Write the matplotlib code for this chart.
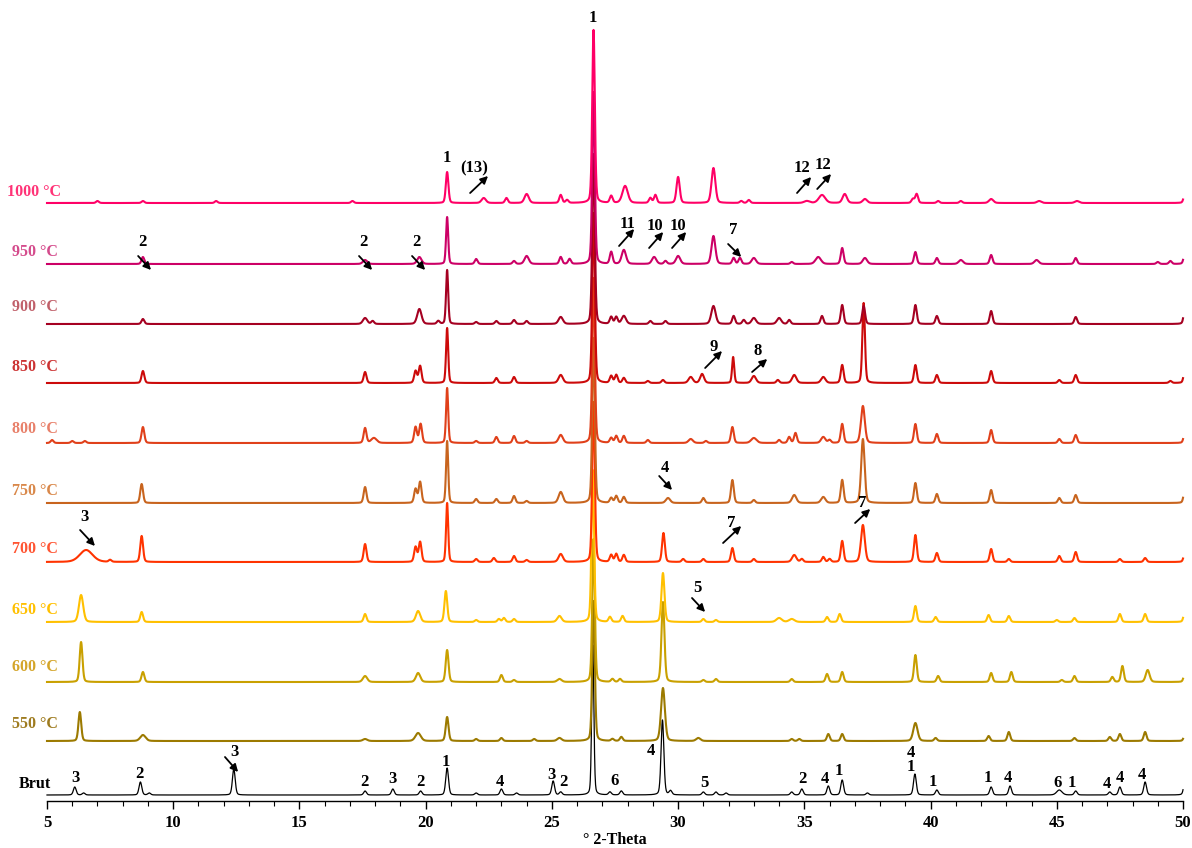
import numpy as np
import matplotlib
matplotlib.use("Agg")
import matplotlib.pyplot as plt
from matplotlib.ticker import MultipleLocator

# ---------------- data ----------------
# each peak: (2-theta, intensity [a.u.], optional FWHM)
samples = ["Brut", "550 °C", "600 °C", "650 °C", "700 °C", "750 °C",
           "800 °C", "850 °C", "900 °C", "950 °C", "1000 °C"]

peaks_brut = [(6.1, 8), (6.45, 2), (8.7, 13), (9.05, 2), (12.4, 26), (17.6, 4),
              (18.7, 6), (19.8, 4), (20.85, 27), (22.0, 2), (23.0, 6), (23.6, 2),
              (25.05, 14), (25.35, 3), (26.62, 150, 0.1), (27.3, 3), (27.75, 4),
              (29.38, 75), (29.7, 4), (31.0, 3), (31.5, 3), (31.9, 2), (34.5, 3),
              (34.9, 6), (35.95, 9), (36.5, 15), (37.5, 2), (39.38, 21), (40.25, 5),
              (42.4, 8), (43.15, 9), (45.1, 5, 0.25), (45.75, 4), (47.1, 3),
              (47.5, 8), (48.5, 13), (50.1, 24)]
peaks_550 = [(6.3, 29), (8.8, 6, 0.25), (17.6, 2, 0.2), (19.7, 8, 0.25), (20.85, 24),
             (22.0, 2), (23.0, 3), (24.3, 2), (25.3, 3, 0.2), (26.65, 140, 0.12),
             (27.4, 2), (27.75, 4), (29.4, 53, 0.18), (30.8, 3, 0.2), (34.5, 2),
             (34.8, 2), (35.95, 7), (36.5, 7), (39.4, 18, 0.2), (40.2, 3),
             (42.3, 5), (43.1, 9), (45.7, 3), (47.1, 4), (47.5, 7), (48.5, 9),
             (50.1, 10)]
peaks_600 = [(6.35, 40), (8.8, 10), (17.6, 6, 0.2), (19.7, 9, 0.2), (20.85, 32),
             (23.0, 7), (23.5, 2), (25.3, 3, 0.2), (26.65, 143, 0.12), (27.4, 3),
             (27.7, 3), (29.4, 80, 0.14), (31.0, 2), (31.5, 3), (34.5, 3),
             (35.9, 8), (36.5, 10), (39.4, 27), (40.3, 6), (42.4, 9), (43.2, 10),
             (45.2, 2), (45.7, 6), (47.2, 5), (47.6, 16), (48.6, 12, 0.18),
             (50.1, 15)]
peaks_650 = [(6.35, 27, 0.2), (8.75, 10), (17.6, 8), (19.7, 11, 0.2), (20.8, 31),
             (22.0, 2), (22.9, 3), (23.1, 4), (23.5, 3), (25.3, 6, 0.2),
             (26.62, 152, 0.12), (27.3, 5), (27.8, 6), (29.4, 49, 0.14), (31.0, 3),
             (31.5, 2), (34.0, 4, 0.25), (34.5, 3, 0.25), (35.9, 5), (36.4, 8),
             (39.4, 16), (40.2, 5), (42.3, 7), (43.1, 6), (45.0, 2), (45.7, 4),
             (47.5, 8), (48.5, 8), (50.1, 19)]
peaks_700 = [(6.55, 12, 0.6), (7.5, 2), (8.75, 26), (17.6, 18), (19.6, 15),
             (19.78, 20), (20.85, 59, 0.1), (22.0, 3), (22.7, 4), (23.5, 6),
             (24.0, 2), (25.35, 8, 0.2), (26.65, 160, 0.12), (27.35, 7), (27.55, 8),
             (27.85, 7), (29.42, 29), (30.2, 3), (31.0, 3), (32.15, 14), (33.0, 3),
             (34.6, 7, 0.2), (34.9, 3), (35.75, 5), (36.0, 3), (36.5, 21),
             (37.32, 37, 0.18), (39.4, 27), (40.25, 9), (42.4, 13), (43.1, 3),
             (45.1, 6), (45.75, 10), (47.5, 3), (48.5, 4), (50.1, 16)]
peaks_750 = [(8.75, 19), (17.6, 16), (19.6, 14), (19.78, 21), (20.85, 62, 0.1),
             (22.0, 4), (22.8, 4), (23.5, 7), (24.0, 2), (25.35, 11, 0.2),
             (26.65, 165, 0.12), (27.35, 5), (27.55, 7), (27.85, 6), (29.6, 5, 0.2),
             (31.0, 5), (32.15, 23), (33.0, 3), (34.6, 8, 0.2), (35.75, 6, 0.2),
             (36.5, 23), (37.32, 64, 0.16), (39.4, 20), (40.25, 9), (42.4, 13),
             (45.1, 5), (45.75, 8), (50.1, 24)]
peaks_800 = [(5.2, 3), (6.0, 2), (6.5, 2), (8.8, 16), (17.6, 15), (17.95, 5, 0.25),
             (19.6, 16), (19.8, 19), (20.85, 55, 0.1), (22.0, 2), (22.8, 6),
             (23.5, 7), (24.0, 2), (25.35, 8, 0.2), (26.65, 165, 0.12), (27.35, 5),
             (27.55, 7), (27.85, 7), (28.8, 3), (30.5, 4, 0.2), (31.1, 2),
             (32.15, 16), (33.0, 5, 0.25), (34.0, 3), (34.4, 6), (34.65, 10),
             (35.75, 6, 0.2), (36.0, 3), (36.5, 19), (37.32, 37, 0.18), (39.4, 19),
             (40.25, 9), (42.4, 13), (45.1, 4), (45.75, 8), (50.1, 18)]
peaks_850 = [(8.8, 12), (17.6, 11), (19.6, 12), (19.78, 17), (20.85, 55, 0.1),
             (22.8, 5), (23.5, 6), (25.35, 8, 0.2), (26.65, 170, 0.12), (27.35, 7),
             (27.55, 8), (27.85, 5), (28.8, 2), (29.4, 3), (30.5, 6, 0.2),
             (30.95, 9, 0.18), (32.18, 26, 0.1), (33.0, 7, 0.2), (33.95, 3),
             (34.6, 8, 0.2), (35.75, 6, 0.2), (36.5, 18), (37.35, 80, 0.12),
             (39.4, 18), (40.25, 8), (42.4, 12), (45.1, 3), (45.75, 8), (49.5, 2),
             (50.1, 22)]
peaks_900 = [(8.8, 5), (17.6, 6, 0.2), (17.9, 3), (19.75, 15, 0.2), (20.5, 3),
             (20.85, 54, 0.1), (22.0, 2), (22.8, 3), (23.5, 4), (24.0, 3),
             (25.35, 7, 0.2), (26.65, 170, 0.12), (27.35, 7), (27.55, 7),
             (27.85, 8, 0.2), (28.9, 3), (29.5, 3), (31.4, 18, 0.2), (32.2, 8),
             (32.6, 4), (33.0, 6, 0.2), (34.0, 6, 0.2), (34.4, 4), (35.7, 8),
             (36.5, 19), (37.35, 18), (39.4, 19), (40.25, 8), (42.4, 13),
             (45.75, 7), (50.1, 26)]
peaks_950 = [(8.8, 7), (17.6, 4, 0.2), (19.75, 7, 0.2), (20.85, 47, 0.1),
             (22.0, 5), (23.5, 3), (24.0, 8, 0.2), (25.35, 7), (25.7, 5),
             (26.65, 172, 0.12), (27.35, 12), (27.85, 14, 0.2), (29.05, 7, 0.2),
             (29.5, 3), (30.0, 8, 0.2), (31.4, 28, 0.18), (32.2, 6), (32.45, 6),
             (33.0, 6, 0.2), (34.5, 2), (35.55, 7, 0.25), (36.5, 16),
             (37.4, 6, 0.2), (39.4, 12), (40.25, 6), (41.2, 4, 0.2), (42.4, 9),
             (44.2, 4, 0.2), (45.75, 6), (49.0, 2), (49.5, 3), (50.1, 19)]
peaks_1000 = [(7.0, 2), (8.8, 2), (11.7, 2), (17.1, 2), (20.85, 31, 0.12),
              (22.3, 5, 0.2), (23.2, 5), (24.0, 9, 0.2), (25.35, 8), (25.6, 3),
              (26.65, 173, 0.12), (27.35, 7), (27.9, 17, 0.25), (28.9, 5),
              (29.1, 8), (30.0, 26, 0.15), (31.4, 35, 0.18), (32.5, 2), (32.8, 3),
              (35.1, 2, 0.25), (35.7, 8, 0.3), (36.6, 9, 0.2), (37.4, 4, 0.2),
              (39.3, 4), (39.45, 9), (40.3, 2), (41.2, 2), (42.4, 4, 0.2),
              (44.3, 2, 0.2), (45.8, 2, 0.2), (50.1, 16)]

all_peaks = [peaks_brut, peaks_550, peaks_600, peaks_650, peaks_700, peaks_750,
             peaks_800, peaks_850, peaks_900, peaks_950, peaks_1000]

# peak labels: (text, 2-theta, height)
brut_labels = [("3", 6.11, 23), ("2", 8.68, 27), ("2", 17.56, 19),
               ("3", 18.67, 22), ("2", 19.78, 19), ("1", 20.8, 39), ("4", 22.95, 19),
               ("3", 24.97, 26), ("2", 25.44, 19), ("6", 27.5, 20), ("4", 28.93, 50),
               ("5", 31.03, 18), ("2", 34.91, 22), ("4", 35.82, 22), ("1", 36.38, 30),
               ("4", 39.23, 48), ("1", 39.23, 34), ("1", 40.1, 19), ("1", 42.28, 23),
               ("4", 43.07, 23), ("6", 45.02, 18), ("1", 45.61, 18), ("4", 47.0, 17),
               ("4", 47.51, 23), ("4", 48.38, 26)]
plain_labels = [("1", 26.63, 783), ("1", 20.85, 643)]
# arrow labels: (text, text-x, text-y, tail-x, tail-y, head-x, head-y)
arrow_labels = [("3", 12.41, 49, 12.05, 44, 12.57, 29),
                ("3", 6.47, 284, 6.31, 271, 6.90, 255),
                ("4", 29.49, 333, 29.25, 325, 29.76, 311),
                ("7", 32.10, 278, 31.78, 258, 32.50, 275),
                ("7", 37.29, 298, 37.01, 278, 37.61, 292),
                ("5", 30.75, 213, 30.55, 203, 31.07, 189),
                ("9", 31.39, 454, 31.07, 433, 31.74, 450),
                ("8", 33.13, 450, 32.93, 429, 33.53, 442),
                ("2", 8.80, 559, 8.61, 545, 9.12, 531),
                ("2", 17.52, 559, 17.36, 545, 17.88, 531),
                ("2", 19.62, 559, 19.46, 545, 19.98, 531),
                ("11", 27.98, 577, 27.66, 555, 28.26, 572),
                ("10", 29.09, 575, 28.85, 553, 29.41, 569),
                ("10", 30.00, 575, 29.76, 553, 30.32, 569),
                ("7", 32.18, 571, 31.98, 557, 32.50, 544),
                ("(13)", 21.92, 633, 21.76, 608, 22.47, 625),
                ("12", 34.91, 633, 34.71, 608, 35.27, 624),
                ("12", 35.75, 636, 35.51, 612, 36.06, 627)]

# ---------------- layout / style ----------------
offsets = [6, 60, 119, 179, 239, 298, 358, 418, 477, 537, 598]
line_colors = ["#000000", "#9C7A00", "#C9A000", "#FFC000", "#FF3300", "#C8641E",
               "#E0401A", "#CC0A0A", "#A50021", "#CC0066", "#FF0066"]
label_colors = ["#000000", "#9E7B1F", "#D4A52A", "#FFC000", "#FF5533", "#D9884A",
                "#E8806A", "#CC3333", "#C0606A", "#D44B8C", "#FF3377"]
label_x = [5.17, 5.42, 5.42, 5.42, 5.42, 5.42, 5.42, 5.42, 5.42, 5.42, 5.55]
label_dy = [11, 17, 15, 12, 13, 12, 14, 16, 17, 12, 11]

SERIF = ["Liberation Serif", "DejaVu Serif"]
plt.rcParams["font.family"] = SERIF
plt.rcParams["font.weight"] = "bold"

two_theta = np.arange(5.0, 50.0001, 0.01)


def pattern(peaks):
    y = np.zeros_like(two_theta)
    for p in peaks:
        c, h = p[0], p[1]
        w = p[2] if len(p) > 2 else 0.13
        g = np.exp(-4 * np.log(2) * ((two_theta - c) / w) ** 2)
        lz = 1.0 / (1.0 + 4 * ((two_theta - c) / w) ** 2)
        y += h * (0.75 * g + 0.25 * lz)
    return y


fig = plt.figure(figsize=(11.92, 8.48), dpi=100)
ax = fig.add_axes([47 / 1192, 47 / 848, 1136 / 1192, 801 / 848])
ax.set_xlim(5, 50)
ax.set_ylim(0, 801)

for i, (name, pk) in enumerate(zip(samples, all_peaks)):
    lw = 0.9 if i == 0 else 1.5
    ax.plot(two_theta, pattern(pk) + offsets[i], color=line_colors[i], lw=lw,
            solid_joinstyle="round", clip_on=False)
    ax.text(label_x[i], offsets[i] + label_dy[i], name, color=label_colors[i],
            ha="right", va="center", fontsize=11.5, fontweight="bold", clip_on=False)

fs = 12
for t, x, y in brut_labels + plain_labels:
    ax.text(x, y, t, ha="center", va="center", fontsize=fs, fontweight="bold")
for t, tx, ty, x0, y0, x1, y1 in arrow_labels:
    ax.text(tx, ty, t, ha="center", va="center", fontsize=fs, fontweight="bold")
    ax.annotate("", xy=(x1, y1), xytext=(x0, y0),
                arrowprops=dict(arrowstyle="-|>", color="black", lw=1.3,
                                mutation_scale=11, shrinkA=0, shrinkB=0))

for s in ["top", "right", "left"]:
    ax.spines[s].set_visible(False)
ax.spines["bottom"].set_linewidth(1.0)
ax.set_yticks([])
ax.xaxis.set_major_locator(MultipleLocator(5))
ax.xaxis.set_minor_locator(MultipleLocator(1))
ax.tick_params(axis="x", which="major", direction="out", length=6, width=1,
               labelsize=12, pad=4)
ax.tick_params(axis="x", which="minor", direction="out", length=3.5, width=0.8)
for lab in ax.get_xticklabels():
    lab.set_fontweight("bold")
ax.set_xlabel("° 2-Theta", fontsize=11.5, fontweight="bold")
ax.xaxis.set_label_coords(0.5, -39 / 801)
ax.xaxis.label.set_va("center")
ax.patch.set_alpha(0)

fig.savefig("out.png", dpi=100)
